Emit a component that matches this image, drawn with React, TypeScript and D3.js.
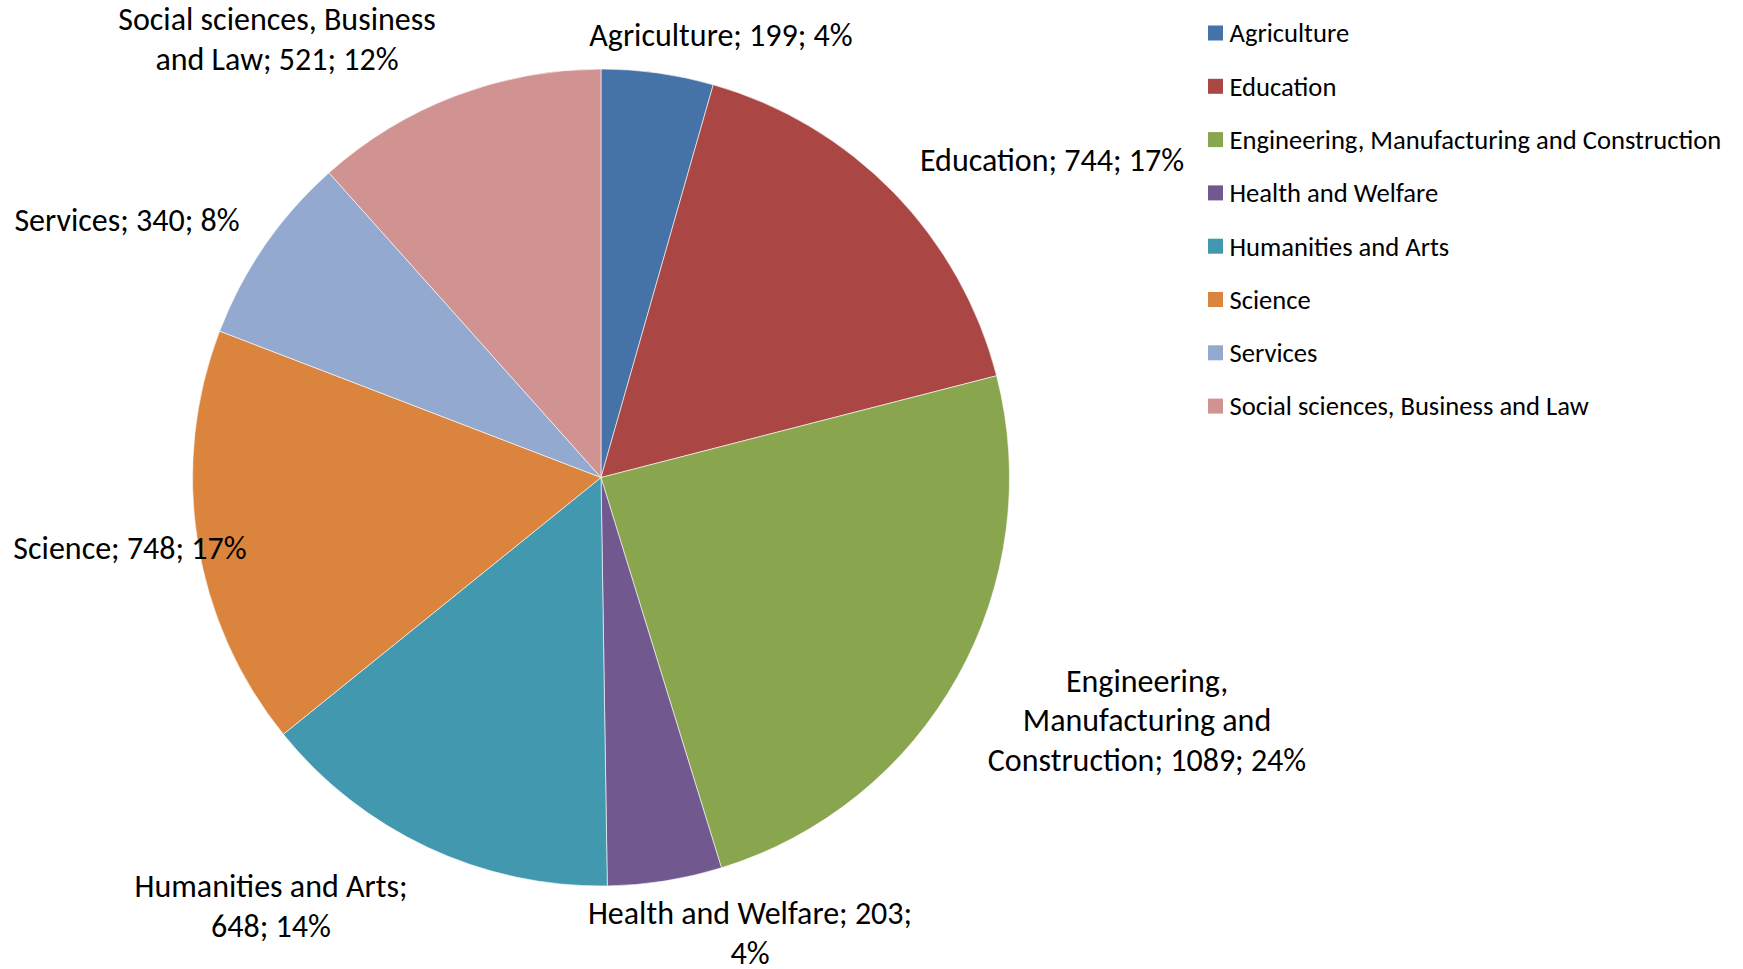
import React from "react";
import * as d3 from "d3";

const CATEGORIES = [
  "Agriculture",
  "Education",
  "Engineering, Manufacturing and Construction",
  "Health and Welfare",
  "Humanities and Arts",
  "Science",
  "Services",
  "Social sciences, Business and Law",
];
const VALUES = [199, 744, 1089, 203, 648, 748, 340, 521];
const PERCENTS = [4, 17, 24, 4, 14, 17, 8, 12];
const COLORS = ["#4572A7", "#AA4643", "#89A54E", "#71588F", "#4198AF", "#DB843D", "#93A9CF", "#D19392"];

// how each data label wraps (as in the reference)
const LABEL_LINES = [
  ["Agriculture; 199; 4%"],
  ["Education; 744; 17%"],
  ["Engineering,", "Manufacturing and", "Construction; 1089; 24%"],
  ["Health and Welfare; 203;", "4%"],
  ["Humanities and Arts;", "648; 14%"],
  ["Science; 748; 17%"],
  ["Services; 340; 8%"],
  ["Social sciences, Business", "and Law; 521; 12%"],
];
// label block centres (layout)
const LABEL_POS: [number, number][] = [
  [721, 35],
  [1052, 160],
  [1147, 720],
  [750, 933],
  [271, 906],
  [130, 548],
  [127, 220],
  [277, 39],
];

const W = 1743;
const H = 969;
const CX = 601;
const CY = 477.5;
const R = 408.5;
const FONT = "Carlito, Calibri, Lato, sans-serif";
const LABEL_SIZE = 32;
const LINE_H = 39.5;
const LEGEND_SIZE = 26.6;

export default function App() {
  const pie = d3.pie<number>().sort(null).value((d) => d)(VALUES);
  const arc = d3.arc<d3.PieArcDatum<number>>().innerRadius(0).outerRadius(R);
  const legendY = d3.scalePoint<string>().domain(CATEGORIES).range([33, 33 + 53.3 * 7]);

  return (
    <svg
      width={W}
      height={H}
      style={{ position: "absolute", left: 0, top: 0, background: "#fff" }}
      fontFamily={FONT}
    >
      <g transform={`translate(${CX},${CY})`}>
        {pie.map((p, i) => (
          <path key={i} d={arc(p) || ""} fill={COLORS[i]} stroke="#fff" strokeWidth={0.6} />
        ))}
      </g>
      {LABEL_LINES.map((lines, i) => {
        const [x, y] = LABEL_POS[i];
        const y0 = y - ((lines.length - 1) * LINE_H) / 2;
        return (
          <text key={i} textAnchor="middle" fontSize={LABEL_SIZE} fill="#000">
            {lines.map((l, j) => (
              <tspan key={j} x={x} y={y0 + j * LINE_H} dy="0.35em">
                {l}
              </tspan>
            ))}
          </text>
        );
      })}
      <g>
        {CATEGORIES.map((c, i) => {
          const y = legendY(c) as number;
          return (
            <g key={c}>
              <rect x={1208} y={y - 7.5} width={15} height={15} fill={COLORS[i]} />
              <text x={1229.5} y={y} dy="0.35em" fontSize={LEGEND_SIZE} fill="#000">
                {c}
              </text>
            </g>
          );
        })}
      </g>
    </svg>
  );
}
